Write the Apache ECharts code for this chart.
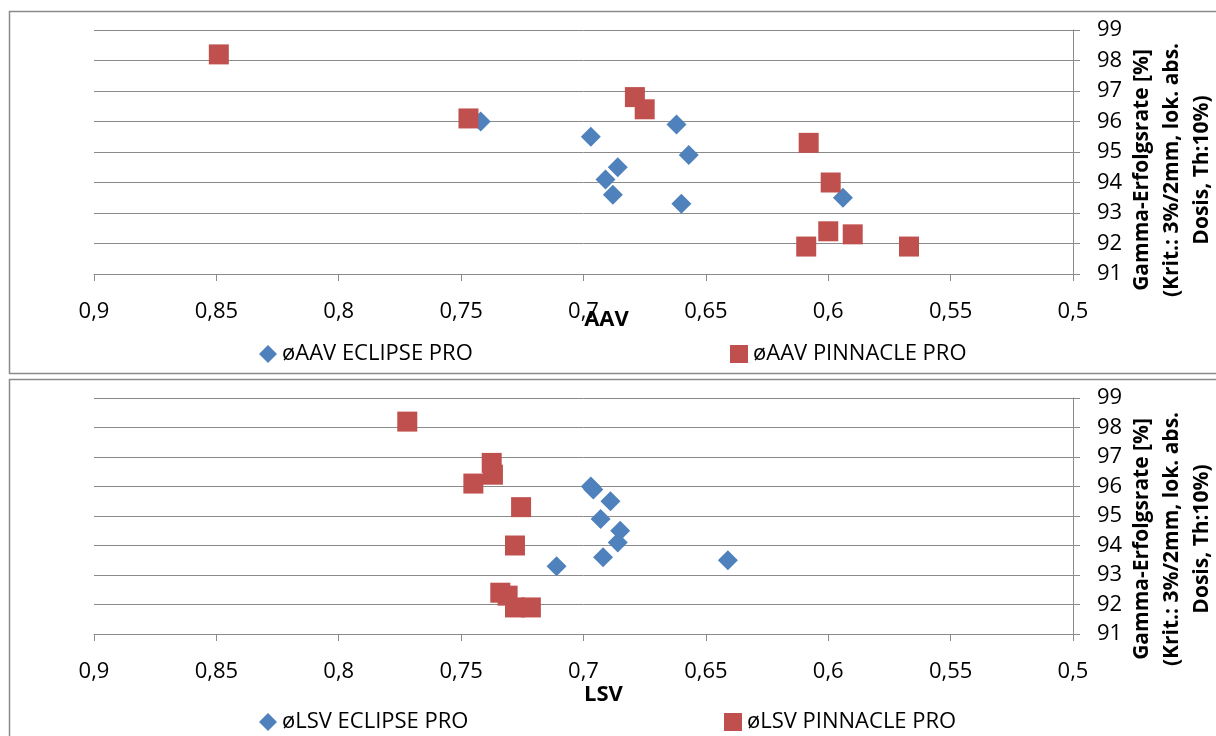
<!DOCTYPE html>
<html>
<head>
<meta charset="utf-8">
<script src="https://cdn.jsdelivr.net/npm/echarts@6/dist/echarts.min.js"></script>
<style>
  html, body { margin: 0; padding: 0; background: #fff; }
  #chart { width: 1216px; height: 736px; }
</style>
</head>
<body>
<div id="chart"></div>
<script>
// Gamma pass rates [%] of the plans, one entry per plan
const eclipseGamma = [96.0, 95.9, 95.5, 94.9, 94.5, 94.1, 93.6, 93.3, 93.5];
const pinnacleGamma = [98.2, 96.1, 96.8, 96.4, 95.3, 94.0, 92.4, 92.3, 91.9, 91.9];

// Mean aperture (AAV) and leaf sequence variability (LSV) per plan
const aavEclipse = [0.742, 0.662, 0.697, 0.657, 0.686, 0.691, 0.688, 0.660, 0.594];
const lsvEclipse = [0.697, 0.696, 0.689, 0.693, 0.685, 0.686, 0.692, 0.711, 0.641];
const aavPinnacle = [0.849, 0.747, 0.679, 0.675, 0.608, 0.599, 0.600, 0.590, 0.609, 0.567];
const lsvPinnacle = [0.772, 0.745, 0.7375, 0.737, 0.7255, 0.728, 0.734, 0.731, 0.728, 0.7215];

// Series names shown in the legends
const seriesNames = {
  aavEclipse: 'øAAV ECLIPSE PRO',
  aavPinnacle: 'øAAV PINNACLE PRO',
  lsvEclipse: 'øLSV ECLIPSE PRO',
  lsvPinnacle: 'øLSV PINNACLE PRO'
};
const xAxisNames = ['AAV', 'LSV'];
const yAxisName = 'Gamma-Erfolgsrate [%]\n(Krit.: 3%/2mm, lok. abs.\nDosis, Th:10%)';

const FONT = '"Open Sans", "Noto Sans", sans-serif';
const BLUE = '#4F81BD';
const RED = '#C0504D';
const GRAY = '#8a8a8a';

const pairs = (xs, ys) => xs.map((x, i) => [x, ys[i]]);
const commaNum = v => String(+v.toFixed(2)).replace('.', ',');

function xAxisFor(gridIndex, name, nameGap, shift) {
  return {
    type: 'value', gridIndex, inverse: true,
    min: 0.5, max: 0.9, interval: 0.05,
    name, nameLocation: 'middle', nameGap, nameMoveOverlap: false,
    nameTextStyle: { fontFamily: FONT, fontWeight: 'bold', fontSize: 22, color: '#000', padding: [0, 0, 0, shift] },
    axisLine: { show: true, lineStyle: { color: GRAY, width: 1 } },
    axisTick: { show: true, inside: false, length: 7, lineStyle: { color: GRAY } },
    axisLabel: { margin: 27, fontFamily: FONT, fontSize: 22, color: '#000', formatter: commaNum },
    splitLine: { show: false }
  };
}

function yAxisFor(gridIndex, shift) {
  return {
    type: 'value', gridIndex, position: 'right',
    min: 91, max: 99, interval: 1,
    name: yAxisName, nameLocation: 'middle', nameRotate: 90, nameGap: 54, nameMoveOverlap: false,
    nameTextStyle: { fontFamily: FONT, fontWeight: 'bold', fontSize: 21, color: '#000',
      lineHeight: 30, align: 'center', padding: [0, shift, 0, 0] },
    axisLine: { show: true, lineStyle: { color: GRAY, width: 1 } },
    axisTick: { show: true, inside: false, length: 7, lineStyle: { color: GRAY } },
    axisLabel: { margin: 24, fontFamily: FONT, fontSize: 22, color: '#000' },
    splitLine: { show: true, lineStyle: { color: GRAY, width: 1 } }
  };
}

function legendFor(name, left, top) {
  return {
    data: [name], left, top,
    itemWidth: 18, itemHeight: 18, itemGap: 0,
    textStyle: { fontFamily: FONT, fontSize: 22, color: '#000' },
    selectedMode: false
  };
}

function scatter(name, data, xi, symbol, color) {
  return {
    type: 'scatter', name, data,
    xAxisIndex: xi, yAxisIndex: xi,
    symbol, symbolSize: 20,
    itemStyle: { color, opacity: 1 },
    emphasis: { disabled: true }
  };
}

const chart = echarts.init(document.getElementById('chart'), null, { renderer: 'canvas' });
chart.setOption({
  animation: false,
  backgroundColor: '#fff',
  grid: [
    { left: 94, right: 143, top: 30, height: 244, containLabel: false, outerBoundsMode: 'none' },
    { left: 94, right: 143, top: 398, height: 236, containLabel: false, outerBoundsMode: 'none' }
  ],
  xAxis: [xAxisFor(0, xAxisNames[0], 35, 46), xAxisFor(1, xAxisNames[1], 50, 40)],
  yAxis: [yAxisFor(0, 36), yAxisFor(1, 46)],
  legend: [
    legendFor(seriesNames.aavEclipse, 254, 338),
    legendFor(seriesNames.aavPinnacle, 725, 338),
    legendFor(seriesNames.lsvEclipse, 254, 706),
    legendFor(seriesNames.lsvPinnacle, 719, 706)
  ],
  graphic: [
    { type: 'rect', silent: true, z: -1,
      shape: { x: 9.5, y: 11.5, width: 1230, height: 362 },
      style: { fill: null, stroke: GRAY, lineWidth: 1.5 } },
    { type: 'rect', silent: true, z: -1,
      shape: { x: 9.5, y: 379.5, width: 1230, height: 400 },
      style: { fill: null, stroke: GRAY, lineWidth: 1.5 } }
  ],
  series: [
    scatter(seriesNames.aavEclipse, pairs(aavEclipse, eclipseGamma), 0, 'diamond', BLUE),
    scatter(seriesNames.aavPinnacle, pairs(aavPinnacle, pinnacleGamma), 0, 'rect', RED),
    scatter(seriesNames.lsvEclipse, pairs(lsvEclipse, eclipseGamma), 1, 'diamond', BLUE),
    scatter(seriesNames.lsvPinnacle, pairs(lsvPinnacle, pinnacleGamma), 1, 'rect', RED)
  ]
});
</script>
</body>
</html>
